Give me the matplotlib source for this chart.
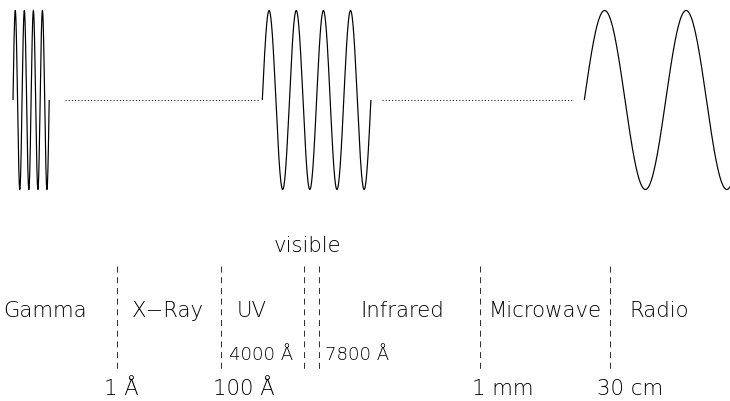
import numpy as np
import matplotlib
matplotlib.use("Agg")
import matplotlib.pyplot as plt
from matplotlib import font_manager
from matplotlib.font_manager import FontProperties

# ---- data ----
band_names = ["Gamma", "X\u2212Ray", "UV", "Infrared", "Microwave", "Radio"]
boundary_labels = ["1 \u00c5", "100 \u00c5", "1 mm", "30 cm"]
visible_labels = ["4000 \u00c5", "7800 \u00c5"]
visible_title = "visible"
wave_cycles = [4, 4, 2]
wave_period_ratio = [1, 3, 9]

# ---- layout (diagram units = pixels) ----
W, H = 730, 402
base_period = 9.05
wave_x0 = [13.0, 262.3, 584.3]
mid_y = 101.0
amp = 89.5
dot_segments = [(65.0, 258.5), (382.0, 574.0)]
band_x = [45.5, 168.0, 251.5, 402.5, 545.0, 659.0]
band_base = 317.0
boundary_lines_x = [116.7, 220.7, 304.3, 319.3, 480.0, 610.0]
dash_top, dash_bot = 267.0, 370.0
boundary_label_x = [121.0, 244.0, 503.0, 630.0]
boundary_base = 395.0
visible_label_x = [261.5, 356.7]
visible_base = 360.0
visible_title_xy = (307.5, 252.0)


def wnum(w):
    if isinstance(w, (int, float)):
        return int(w)
    return font_manager.weight_dict.get(str(w).lower(), 400)


def pick_font():
    prefs = [("DejaVu Sans", 200), ("Open Sans", 300), ("Roboto", 300),
             ("Lato", 300)]
    for fam, w in prefs:
        for f in font_manager.fontManager.ttflist:
            if f.name == fam and wnum(f.weight) == w and f.style == 'normal' \
                    and f.stretch in ('normal', 500, 'medium'):
                return FontProperties(fname=f.fname)
    return FontProperties(family="DejaVu Sans")


fp_base = pick_font()

fig = plt.figure(figsize=(W / 100, H / 100), dpi=100)
ax = fig.add_axes([0, 0, 1, 1])
ax.set_xlim(0, W)
ax.set_ylim(H, 0)
ax.axis('off')

renderer = fig.canvas.get_renderer()


def fit_size(s, target_px):
    fp = fp_base.copy()
    fp.set_size(10)
    t = ax.text(0, 0, s, fontproperties=fp)
    w = t.get_window_extent(renderer).width
    t.remove()
    return 10 * target_px / w


big = fit_size("Microwave", 114)
small = fit_size("4000 \u00c5", 64)

px = 0.72  # one pixel in points

for x0, ncyc, ratio in zip(wave_x0, wave_cycles, wave_period_ratio):
    period = base_period * ratio
    t = np.linspace(0, ncyc, 800)
    ax.plot(x0 + t * period, mid_y - amp * np.sin(2 * np.pi * t),
            color='black', lw=1.2 * px, solid_capstyle='butt')

for xa, xb in dot_segments:
    ax.plot([xa, xb], [mid_y, mid_y], color='black', lw=px,
            linestyle=(0, (1, 2.2)))

for x in boundary_lines_x:
    ax.plot([x, x], [dash_top, dash_bot], color='#333333', lw=px,
            linestyle=(0, (6, 4.7)))


def put(x, y, s, size):
    fp = fp_base.copy()
    fp.set_size(size)
    ax.text(x, y, s, ha='center', va='baseline', fontproperties=fp,
            color='black')


for name, x in zip(band_names, band_x):
    put(x, band_base, name, big)
for lab, x in zip(boundary_labels, boundary_label_x):
    put(x, boundary_base, lab, big)
for lab, x in zip(visible_labels, visible_label_x):
    put(x, visible_base, lab, small)
put(visible_title_xy[0], visible_title_xy[1], visible_title, big)

fig.savefig("out.png", dpi=100, facecolor='white')
